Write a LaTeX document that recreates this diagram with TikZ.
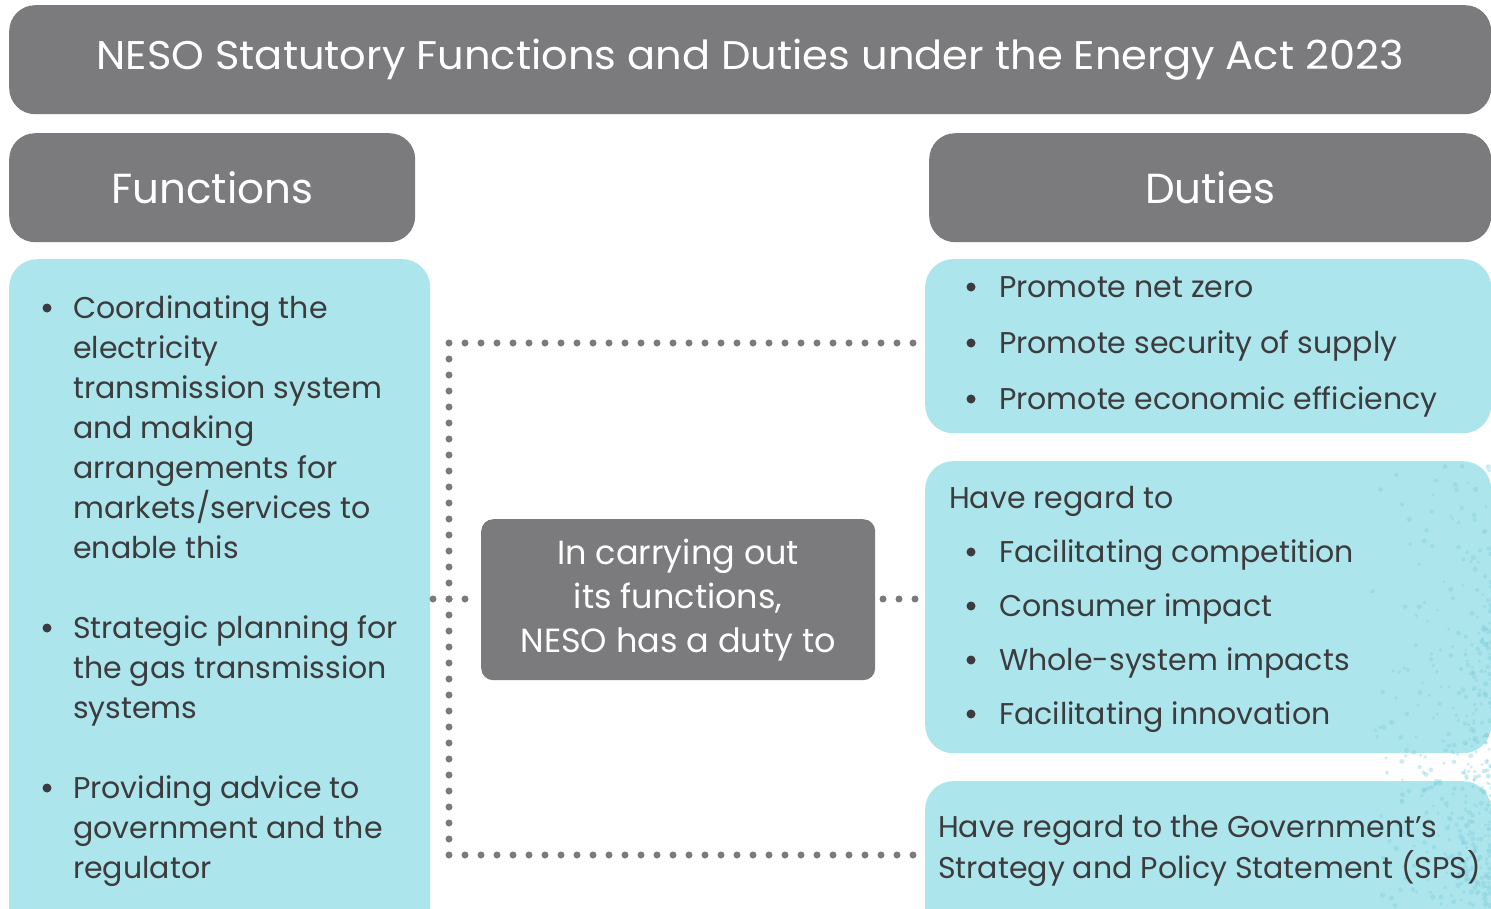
\documentclass[tikz,border=0pt]{standalone}
\usepackage{fontspec}
\setmainfont{Poppins}
\newfontfamily\widefont[FakeStretch=1.04]{Poppins}
\definecolor{nesogray}{HTML}{7B7A7C}
\definecolor{nesocyan}{HTML}{ADE5EC}
\definecolor{nesotext}{HTML}{3C3B3D}
\definecolor{speckle}{HTML}{7FCFDB}
\begin{document}
\begin{tikzpicture}[x=1pt,y=-1pt,
  graybox/.style={fill=nesogray, draw=none, rounded corners=26pt, text=white,
    inner sep=0pt, anchor=north west},
  cyanbox/.style={fill=nesocyan, draw=none, rounded corners=28pt,
    inner sep=0pt, anchor=north west},
  bodytext/.style={anchor=north west, inner sep=0pt, align=left, text=nesotext},
  dotline/.style={draw=nesogray, line width=7pt, line cap=round,
    dash pattern=on 0pt off 16pt},
  bulletdot/.style={fill=nesotext}]
\useasboundingbox (0,0) rectangle (1491,908);
\clip (0,0) rectangle (1491,908);

% headers
\node[graybox, minimum width=1482pt, minimum height=109pt,
  font=\widefont\fontsize{40}{48}\selectfont] (title) at (9,5)
  {NESO Statutory Functions and Duties under the Energy Act 2023};
\node[graybox, minimum width=406pt, minimum height=109pt,
  font=\fontsize{42}{48}\selectfont] (functions) at (9,133) {Functions};
\node[graybox, minimum width=562pt, minimum height=109pt,
  font=\fontsize{42}{48}\selectfont] (duties) at (929,133) {Duties};

% content panels
\node[cyanbox, minimum width=421pt, minimum height=700pt] (fbox) at (9,259) {};
\node[cyanbox, minimum width=566pt, minimum height=174pt] (dbox1) at (925,259) {};
\node[cyanbox, minimum width=566pt, minimum height=292pt] (dbox2) at (925,461) {};
\node[cyanbox, minimum width=566pt, minimum height=200pt] (dbox3) at (925,781) {};

% speckled texture along the right edge
\begin{scope}
  \pgfmathsetseed{11}
  \foreach \i in {1,...,420}{
    \pgfmathsetmacro{\px}{1491-135*rnd*rnd}
    \pgfmathsetmacro{\py}{430+478*sqrt(rnd)}
    \pgfmathsetmacro{\pr}{1.4+1.3*rnd}
    \fill[speckle, opacity=0.4] (\px,\py) circle (\pr pt);
  }
\end{scope}

% central statement
\node[fill=nesogray, rounded corners=12pt, minimum width=394pt, minimum height=161pt,
  inner sep=0pt, anchor=north west, text=white, align=center,
  font=\fontsize{33.5}{44}\selectfont] (centre) at (481,519)
  {In carrying out\\its functions,\\NESO has a duty to};

% dotted connectors
\coordinate (topend) at (913,343);
\coordinate (topcorner) at (449,343);
\coordinate (botcorner) at (449,855);
\coordinate (botend) at (913.5,855);
\coordinate (lstub) at (433,599);
\coordinate (rstub) at (915,599);
\draw[dotline] (topend) -- (topcorner) -- (botcorner) -- (botend);
\draw[dotline] (lstub) -- (centre.west |- lstub);
\draw[dotline] (rstub) -- (883,599);

% functions list
\node[bodytext, font=\fontsize{30}{40}\selectfont] (f1) at (73,290)
  {\strut Coordinating the\\electricity\\transmission system\\and making\\arrangements for\\markets/services to\\enable this};
\node[bodytext, font=\fontsize{30}{40}\selectfont] (f2) at (73,610)
  {\strut Strategic planning for\\the gas transmission\\systems};
\node[bodytext, font=\fontsize{30}{40}\selectfont] (f3) at (73,770)
  {\strut Providing advice to\\government and the\\regulator};
\foreach \y in {308,628,788} \fill[bulletdot] (47,\y) circle (4.5pt);

% duties lists
\node[bodytext, font=\fontsize{30}{56}\selectfont] (d1) at (999,257.8)
  {\strut Promote net zero\\Promote security of supply\\Promote economic efficiency};
\foreach \y in {287,343,399} \fill[bulletdot] (971,\y) circle (4.5pt);

\node[bodytext, font=\fontsize{30}{54}\selectfont] (d2h) at (949,470.2)
  {\strut Have regard to};
\node[bodytext, font=\fontsize{30}{54}\selectfont] (d2) at (999,524.2)
  {\strut Facilitating competition\\Consumer impact\\Whole-system impacts\\Facilitating innovation};
\foreach \y in {552,606,660,714} \fill[bulletdot] (971,\y) circle (4.5pt);

\node[bodytext, font=\fontsize{30}{40}\selectfont] (d3) at (938,809)
  {\strut Have regard to the Government’s\\Strategy and Policy Statement (SPS)};
\end{tikzpicture}
\end{document}
